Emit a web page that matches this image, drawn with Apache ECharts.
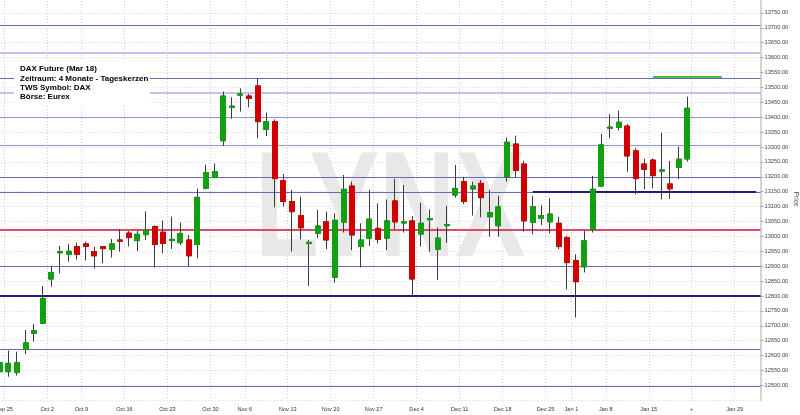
<!DOCTYPE html>
<html>
<head>
<meta charset="utf-8">
<script src="https://cdn.jsdelivr.net/npm/echarts@6/dist/echarts.min.js"></script>
<style>
  html, body { margin: 0; padding: 0; background: #fff; }
  #chart { width: 800px; height: 415px; }
</style>
</head>
<body>
<div id="chart"></div>
<script>
// trading days (Eurex), then empty future days up to the right edge
const days = [
  "2017-09-22", "2017-09-25", "2017-09-26", "2017-09-27", "2017-09-28", "2017-09-29",
  "2017-10-02", "2017-10-04", "2017-10-05", "2017-10-06",
  "2017-10-09", "2017-10-10", "2017-10-11", "2017-10-12", "2017-10-13",
  "2017-10-16", "2017-10-17", "2017-10-18", "2017-10-19", "2017-10-20",
  "2017-10-23", "2017-10-24", "2017-10-25", "2017-10-26", "2017-10-27",
  "2017-10-30", "2017-11-01", "2017-11-02", "2017-11-03",
  "2017-11-06", "2017-11-07", "2017-11-08", "2017-11-09", "2017-11-10",
  "2017-11-13", "2017-11-14", "2017-11-15", "2017-11-16", "2017-11-17",
  "2017-11-20", "2017-11-21", "2017-11-22", "2017-11-23", "2017-11-24",
  "2017-11-27", "2017-11-28", "2017-11-29", "2017-11-30", "2017-12-01",
  "2017-12-04", "2017-12-05", "2017-12-06", "2017-12-07", "2017-12-08",
  "2017-12-11", "2017-12-12", "2017-12-13", "2017-12-14", "2017-12-15",
  "2017-12-18", "2017-12-19", "2017-12-20", "2017-12-21", "2017-12-22",
  "2017-12-27", "2017-12-28", "2017-12-29",
  "2018-01-02", "2018-01-03", "2018-01-04", "2018-01-05",
  "2018-01-08", "2018-01-09", "2018-01-10", "2018-01-11", "2018-01-12",
  "2018-01-15", "2018-01-16", "2018-01-17", "2018-01-18", "2018-01-19",
  "2018-01-22", "2018-01-23", "2018-01-24", "2018-01-25", "2018-01-26",
  "2018-01-29", "2018-01-30", "2018-01-31"
];

const opens = [
  12546, 12546, 12543, 12621, 12675, 12708,
  12857, 12945, 12940, 12966,
  12975, 12949, 12966, 12957, 12988,
  13011, 12986, 13006, 13033, 13014,
  12986, 12979, 12988, 12973, 13161,
  13198, 13321, 13433, 13474,
  13471, 13505, 13359, 13385, 13187,
  13117, 13070, 12976, 13010, 13049,
  12863, 13048, 13169, 12966, 12994,
  13027, 12994, 13119, 13045, 13052,
  13008, 13056, 12957, 13036, 13139,
  13184, 13159, 13178, 13066, 13036,
  13200, 13310, 13243, 13047, 13061,
  13049, 13044, 12996,
  12919, 12898, 13024, 13169,
  13363, 13366, 13370, 13287, 13243,
  13256, 13219, 13176, 13231, 13260
];
const closes = [
  12576, 12574, 12576, 12643, 12684, 12792,
  12879, 12949, 12950, 12940,
  12966, 12935, 12959, 12975, 12984,
  12996, 13007, 13021, 12973, 12976,
  12990, 13010, 12935, 13131, 13214,
  13217, 13471, 13437, 13478,
  13463, 13385, 13385, 13194, 13117,
  13083, 13029, 12980, 13035, 12988,
  13054, 13158, 13005, 12988, 13058,
  12990, 13052, 13049, 13049, 12857,
  13044, 13060, 12994, 13040, 13161,
  13117, 13169, 13130, 13080, 13099,
  13316, 13221, 13052, 13100, 13070,
  13075, 12966, 12912,
  12848, 12985, 13158, 13307,
  13367, 13383, 13270, 13194, 13225,
  13204, 13223, 13160, 13259, 13430
];
const lows = [
  12540, 12529, 12533, 12605, 12647, 12706,
  12831, 12876, 12915, 12923,
  12919, 12892, 12910, 12929, 12949,
  12966, 12951, 12988, 12896, 12943,
  12958, 12971, 12898, 12926, 13158,
  13195, 13303, 13395, 13419,
  13433, 13329, 13337, 13098, 13100,
  12949, 12990, 12834, 12994, 12957,
  12845, 13013, 12954, 12896, 12968,
  12977, 12954, 13024, 13013, 12798,
  12966, 12949, 12854, 12979, 13130,
  13108, 13070, 13064, 12999, 12999,
  13184, 13198, 13016, 13007, 13038,
  13010, 12957, 12822,
  12728, 12879, 13013, 13165,
  13329, 13355, 13217, 13141, 13158,
  13161, 13124, 13126, 13192, 13251
];
const highs = [
  12585, 12617, 12613, 12686, 12706, 12834,
  12901, 12968, 12975, 12979,
  12982, 12966, 12968, 12991, 13025,
  13018, 13018, 13084, 13037, 13053,
  13066, 13046, 13005, 13160, 13240,
  13245, 13486, 13467, 13497,
  13478, 13530, 13415, 13393, 13209,
  13156, 13133, 12988, 13089, 13083,
  13077, 13206, 13184, 13044, 13156,
  13111, 13124, 13193, 13172, 13068,
  13113, 13091, 13030, 13102, 13240,
  13200, 13184, 13189, 13156, 13136,
  13332, 13338, 13254, 13136, 13105,
  13128, 13066, 13002,
  12940, 13018, 13203, 13344,
  13410, 13422, 13377, 13296, 13260,
  13262, 13348, 13253, 13301, 13469
];

// week-start tick labels (first trading day of each week)
const weekLabels = {
  "2017-09-25": "Sep 25", "2017-10-02": "Oct 2", "2017-10-09": "Oct 9",
  "2017-10-16": "Oct 16", "2017-10-23": "Oct 23", "2017-10-30": "Oct 30",
  "2017-11-06": "Nov 6", "2017-11-13": "Nov 13", "2017-11-20": "Nov 20",
  "2017-11-27": "Nov 27", "2017-12-04": "Dec 4", "2017-12-11": "Dec 11",
  "2017-12-18": "Dec 18", "2017-12-27": "Dec 25", "2018-01-02": "Jan 1",
  "2018-01-08": "Jan 8", "2018-01-15": "Jan 15", "2018-01-22": "+",
  "2018-01-29": "Jan 29"
};

// drawn price levels
const levels = [13710, 13530, 13200, 13148, 12900, 12622, 12497];
const softLevels = [13400, 13305];
const faintLevels = [13615, 13483];
const supportLevel = 12800;
const pivotLevel = 13022;
const navyLevel = 13150;
const navyFrom = "2017-12-21";
const targetLevel = 13535;
const targetFrom = "2018-01-15";
const targetTo = "2018-01-25";

const infoLines = [
  "DAX Future (Mar 18)",
  "Zeitraum: 4 Monate - Tageskerzen",
  "TWS Symbol: DAX",
  "Börse: Eurex"
];

const green = "#12a012";
const red = "#d10000";
const wick = "#3c3c3c";
const font = "'Liberation Sans', Arial, sans-serif";

const candles = opens.map((o, i) => [o, closes[i], lows[i], highs[i]]);
const bodies = opens.map((o, i) => [o, closes[i], Math.min(o, closes[i]), Math.max(o, closes[i])]);

const lineData = [
  ...levels.map(v => ({ yAxis: v, lineStyle: { color: "#6a6ab6", width: 1, type: "solid" } })),
  ...softLevels.map(v => ({ yAxis: v, lineStyle: { color: "#9292cf", width: 1, type: "solid" } })),
  ...faintLevels.map(v => ({ yAxis: v, lineStyle: { color: "#c4c4e8", width: 2, type: "solid" } })),
  { yAxis: supportLevel, lineStyle: { color: "#1e1e80", width: 2, type: "solid" } },
  { yAxis: pivotLevel, lineStyle: { color: "#dc4a68", width: 2, type: "solid" } },
  [
    { coord: [navyFrom, navyLevel], lineStyle: { color: "#1e1e80", width: 2, type: "solid" } },
    { coord: [days[days.length - 1], navyLevel] }
  ],
  [
    { coord: [targetFrom, targetLevel], lineStyle: { color: "#44bb44", width: 2, type: "solid" } },
    { coord: [targetTo, targetLevel] }
  ]
];

const chart = echarts.init(document.getElementById("chart"));
chart.setOption({
  animation: false,
  backgroundColor: "#fff",
  textStyle: { fontFamily: font },
  grid: {
    left: -4.5, right: 39.5, top: -2, bottom: 14.7,
    containLabel: false,
    outerBoundsMode: "none"
  },
  xAxis: {
    type: "category",
    data: days,
    boundaryGap: true,
    axisLine: { show: false },
    axisTick: { show: false },
    axisLabel: {
      interval: (i, v) => v in weekLabels,
      formatter: v => "{l|" + (weekLabels[v] || "") + "}",
      margin: 6,
      hideOverlap: false,
      rich: { l: { fontSize: 5.6, color: "#333", fontFamily: font, padding: [0, 8.6, 0, 0] } }
    },
    splitLine: {
      show: true,
      interval: (i, v) => v in weekLabels,
      lineStyle: { color: "#cfcfcf", width: 1, type: [1, 2] }
    }
  },
  yAxis: {
    type: "value",
    position: "right",
    min: 12450,
    max: 13800,
    interval: 50,
    name: "Price",
    nameLocation: "middle",
    nameRotate: -90,
    nameGap: 32,
    nameMoveOverlap: false,
    nameTextStyle: { fontSize: 6.5, color: "#444", fontFamily: font },
    axisLine: { show: true, lineStyle: { color: "#d4d4d4", width: 2 } },
    axisTick: { show: true, length: 3, lineStyle: { color: "#aaa" } },
    axisLabel: {
      showMinLabel: false,
      showMaxLabel: false,
      margin: 4,
      fontSize: 5.7,
      color: "#444",
      formatter: v => v.toFixed(2)
    },
    splitLine: { show: true, lineStyle: { color: "#d4d4d4", width: 1, type: [1, 2] } }
  },
  graphic: [
    {
      type: "text",
      z: 1,
      x: 390,
      y: 215,
      scaleX: 0.7,
      silent: true,
      style: {
        text: "LYNX",
        font: "bold 150px 'Liberation Sans'",
        fill: "#e8e8e8",
        textAlign: "center", align: "center",
        textVerticalAlign: "middle", verticalAlign: "middle"
      }
    },
    {
      type: "rect",
      z: 100,
      x: 14,
      y: 61,
      silent: true,
      shape: { x: 0, y: 0, width: 136, height: 43 },
      style: { fill: "#fff" }
    }
  ].concat(infoLines.map((t, i) => ({
    type: "text",
    z: 101,
    x: 20,
    y: 69 + i * 9.4,
    silent: true,
    style: {
      text: t,
      font: "bold 8px 'Liberation Sans'",
      fill: "#000",
      textVerticalAlign: "middle", verticalAlign: "middle"
    }
  }))),
  series: [
    {
      type: "line",
      data: [],
      silent: true,
      z: 10,
      markLine: {
        silent: true,
        z: 10,
        symbol: ["none", "none"],
        label: { show: false },
        emphasis: { disabled: true },
        data: lineData
      }
    },
    {
      name: "wick",
      type: "candlestick",
      data: candles,
      barWidth: 5.5,
      silent: true,
      z: 20,
      itemStyle: {
        color: "transparent",
        color0: "transparent",
        borderColor: wick,
        borderColor0: wick,
        borderWidth: 1
      }
    },
    {
      name: "DAX",
      type: "candlestick",
      data: bodies,
      barWidth: 5.5,
      silent: true,
      z: 21,
      itemStyle: {
        color: green,
        color0: red,
        borderColor: green,
        borderColor0: red,
        borderWidth: 1
      }
    }
  ]
});
</script>
</body>
</html>
